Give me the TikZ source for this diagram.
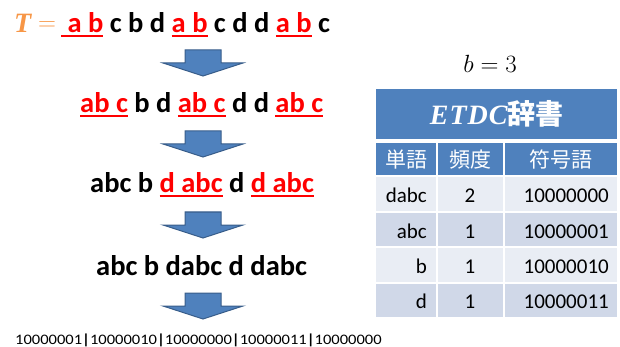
\documentclass[tikz,border=0pt]{standalone}
\usepackage{fontspec}
\setmainfont{Carlito}
\newfontfamily\jpfont{Noto Sans CJK JP}
\newfontfamily\titleserif{Liberation Serif}

\definecolor{hdrblue}{HTML}{4F81BD}
\definecolor{arrowedge}{HTML}{385D8A}
\definecolor{rowlight}{HTML}{E9EDF4}
\definecolor{rowdark}{HTML}{D0D8E8}
\definecolor{torange}{HTML}{F79646}
\definecolor{ulred}{HTML}{FF0000}

% red text with a thick red underline
\newcommand{\redul}[1]{{\color{ulred}\setbox0\hbox{#1}\rlap{\rule[-4.5pt]{\wd0}{2pt}}\box0}}

\tikzset{
  arrowshape/.style={fill=hdrblue, draw=arrowedge, line width=1pt, line join=miter},
  downarrow/.pic={\draw[arrowshape] (-18,0) -- (18,0) -- (18,13) -- (40,13)
                   -- (0,26) -- (-40,13) -- (-18,13) -- cycle;},
  rowtext/.style={anchor=base west, inner sep=0pt, font=\fontsize{28.5}{30}\selectfont\bfseries},
  codetext/.style={anchor=base west, inner sep=0pt, font=\fontsize{14.5}{16}\selectfont},
  cell/.style={anchor=north west, inner sep=0pt, draw=none},
  hdrcell/.style={cell, fill=hdrblue, minimum height=32pt, text=white,
                  font=\fontsize{21}{24}\selectfont\jpfont},
  lightcell/.style={cell, fill=rowlight, minimum height=33.5pt},
  darkcell/.style={cell, fill=rowdark, minimum height=33.5pt},
  celltext/.style={inner sep=0pt, font=\fontsize{21}{24}\selectfont},
}

\begin{document}
\begin{tikzpicture}[x=1pt,y=-1pt]
\useasboundingbox (0,0) rectangle (620,347);

% ---- rewriting steps ----
\node[anchor=base west, inner sep=0pt, text=torange,
      font=\fontsize{28}{30}\selectfont\titleserif\bfseries\itshape] (tsym) at (14,33) {T};
\node[anchor=base west, inner sep=0pt, text=torange,
      font=\fontsize{28}{30}\selectfont] (eqsym) at (38,31) {$=$};
\node[rowtext] (row1) at (61,33)
  {\redul{\ a b} c b d \redul{a b} c d d \redul{a b} c};

\node[rowtext] (row2) at (80,113)
  {\redul{ab c} b d \redul{ab c} d d \redul{ab c}};

\node[rowtext] (row3) at (90,193)
  {abc b \redul{d abc} d \redul{d abc}};

\node[rowtext] (row4) at (96,275)
  {abc b dabc d dabc};

\node[codetext] (code) at (15,344)
  {\scalebox{1.14}[1]{10000001\textbf{|}10000010\textbf{|}10000000\textbf{|}10000011\textbf{|}10000000}};

% ---- block arrows between the steps ----
\pic at (203,50)  {downarrow};
\pic at (203,131) {downarrow};
\pic at (203,212) {downarrow};
\pic at (203,293) {downarrow};

% ---- parameter ----
\node[inner sep=0pt, font=\fontsize{24}{28}\selectfont] (param) at (490,63.5) {$b=3$};

% ---- ETDC dictionary table ----
\node[cell, fill=hdrblue, minimum width=241pt, minimum height=50pt] (title) at (376,89) {};
\node[inner sep=0pt, text=white, font=\fontsize{28}{32}\selectfont] (titletext) at (title.center)
  {{\titleserif\bfseries\itshape E\kern1pt T\kern1pt D\kern1pt C}{\jpfont\bfseries 辞書}};

\node[hdrcell, minimum width=60pt]  (h1) at (376,143) {単語};
\node[hdrcell, minimum width=65pt]  (h2) at (438,143) {頻度};
\node[hdrcell, minimum width=112pt] (h3) at (505,143) {符号語};

% data rows: cells
\foreach \r/\top/\sty in {1/177/lightcell, 2/212.5/darkcell, 3/248/lightcell, 4/283.5/darkcell}{
  \node[\sty, minimum width=60pt]  (c\r a) at (376,\top) {};
  \node[\sty, minimum width=65pt]  (c\r b) at (438,\top) {};
  \node[\sty, minimum width=112pt] (c\r c) at (505,\top) {};
}

% data rows: entries
\foreach \r/\base/\word/\freq/\code in {1/203/dabc/2/10000000, 2/238/abc/1/10000001,
                                        3/273/b/1/10000010, 4/308/d/1/10000011}{
  \node[celltext, anchor=base east] (w\r) at (427,\base) {\word};
  \node[celltext, anchor=base]      (f\r) at (470,\base) {\freq};
  \node[celltext, anchor=base east] (k\r) at (609,\base) {\code};
}
\end{tikzpicture}
\end{document}
